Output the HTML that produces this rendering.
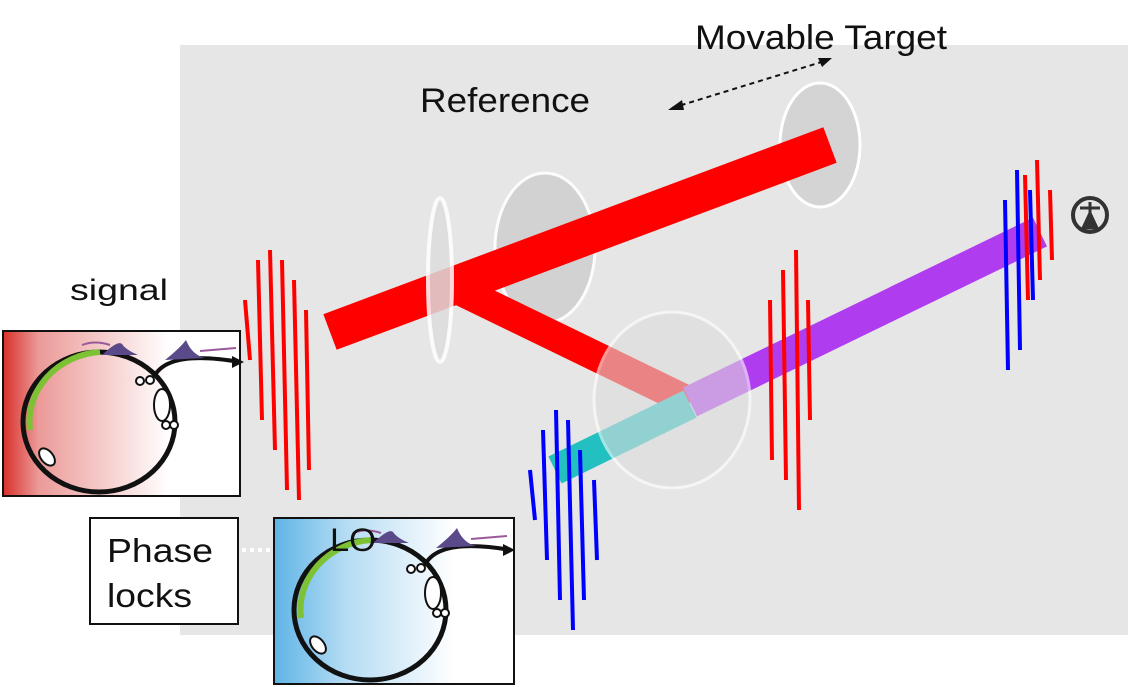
<!DOCTYPE html>
<html><head><style>
body{margin:0;width:1130px;height:687px;background:#fff;overflow:hidden;font-family:"Liberation Sans",Arial,sans-serif}
svg{position:absolute;left:0;top:0}
</style></head><body>
<svg width="1130" height="687" viewBox="0 0 1130 687">
<defs>
<linearGradient id="rg" x1="0" x2="1"><stop offset="0" stop-color="#d9302a"/><stop offset="0.15" stop-color="#eb9a98"/><stop offset="0.7" stop-color="#fff"/></linearGradient>
<linearGradient id="bg" x1="0" x2="1"><stop offset="0" stop-color="#5fb4e6"/><stop offset="0.3" stop-color="#b5dcf3"/><stop offset="0.75" stop-color="#fff"/></linearGradient>
<g id="ring">
<ellipse cx="99" cy="422" rx="76" ry="70" fill="none" stroke="#111" stroke-width="5"/>
<path d="M100 352 A76 70 0 0 0 30 430" fill="none" stroke="#7cc234" stroke-width="6"/>
<path d="M155 375 Q170 350 240 362" fill="none" stroke="#111" stroke-width="4"/>
<polygon points="232,356 244,362 232,368" fill="#111"/>
<ellipse cx="162" cy="405" rx="8" ry="16" fill="#fff" stroke="#111" stroke-width="2"/>
<circle cx="140" cy="381" r="4" fill="#fff" stroke="#111" stroke-width="2"/><circle cx="150" cy="380" r="4" fill="#fff" stroke="#111" stroke-width="2"/>
<circle cx="166" cy="425" r="4" fill="#fff" stroke="#111" stroke-width="2"/><circle cx="174" cy="425" r="4" fill="#fff" stroke="#111" stroke-width="2"/>
<ellipse cx="47" cy="457" rx="6" ry="10" fill="#fff" stroke="#111" stroke-width="2" transform="rotate(-40 47 457)"/>
<path d="M102 355 Q118 340 122 344 Q126 350 138 355 Z" fill="#5a4a8a"/>
<path d="M165 360 Q180 348 186 340 Q192 355 205 358 Z" fill="#5a4a8a"/>
<path d="M110 345 Q95 340 82 345" fill="none" stroke="#9a5a9a" stroke-width="2"/>
<path d="M200 351 L236 348" fill="none" stroke="#9a5a9a" stroke-width="2"/>
</g>
</defs>
<rect x="180" y="45" width="948" height="590" fill="#e6e6e6"/>
<text x="695" y="49" font-size="34" fill="#111" textLength="252" lengthAdjust="spacingAndGlyphs">Movable Target</text>
<text x="420" y="112" font-size="34" fill="#111" textLength="170" lengthAdjust="spacingAndGlyphs">Reference</text>
<text x="70" y="300" font-size="30" fill="#111" textLength="98" lengthAdjust="spacingAndGlyphs">signal</text>
<line x1="672" y1="108" x2="828" y2="60" stroke="#111" stroke-width="2" stroke-dasharray="5,4"/>
<polygon points="668,110 682,100 684,110" fill="#111"/><polygon points="832,58 818,58 822,67" fill="#111"/>
<ellipse cx="820" cy="145" rx="40" ry="62" fill="#d4d4d4" stroke="#fff" stroke-width="3"/>
<ellipse cx="545" cy="248" rx="50" ry="75" fill="#d0d0d0" stroke="#fff" stroke-width="3" opacity="0.9"/>
<line x1="330" y1="332" x2="830" y2="145" stroke="#f00" stroke-width="38"/>
<line x1="455" y1="288" x2="690" y2="402" stroke="#f00" stroke-width="30"/>
<line x1="690" y1="402" x2="1040" y2="232" stroke="#b03cf0" stroke-width="32"/>
<line x1="555" y1="470" x2="690" y2="404" stroke="#22c0c0" stroke-width="30"/>
<ellipse cx="440" cy="280" rx="12" ry="82" fill="#ddd" stroke="#fff" stroke-width="4" opacity="0.85"/>
<ellipse cx="672" cy="400" rx="78" ry="88" fill="#ddd" stroke="#fff" stroke-width="3" opacity="0.6"/>
<g stroke="#f00" stroke-width="4" fill="none">
<path d="M245 300 L250 360 M258 260 L262 420 M270 250 L275 450 M282 260 L287 490 M294 280 L299 500 M306 310 L309 470"/>
<path d="M770 300 L772 460 M783 270 L786 480 M796 250 L799 510 M808 300 L810 420"/>
<path d="M1025 175 L1028 300 M1037 160 L1040 280 M1050 190 L1052 260"/>
</g>
<g stroke="#00f" stroke-width="4" fill="none">
<path d="M530 470 L535 520 M543 430 L547 560 M556 410 L560 600 M568 420 L573 630 M580 450 L584 600 M594 480 L597 560"/>
<path d="M1005 200 L1008 370 M1017 170 L1020 350 M1030 190 L1033 300"/>
</g>
<circle cx="1090" cy="215" r="17" fill="none" stroke="#333" stroke-width="4"/>
<path d="M1080 208 H1100 M1090 202 V228 M1083 228 L1090 213 L1097 228 Z" stroke="#333" stroke-width="3" fill="#333"/>
<rect x="3" y="331" width="237" height="165" fill="url(#rg)" stroke="#111" stroke-width="2"/>
<use href="#ring"/>
<rect x="90" y="518" width="148" height="106" fill="#fff" stroke="#111" stroke-width="2"/>
<text x="107" y="562" font-size="33" fill="#111" textLength="106" lengthAdjust="spacingAndGlyphs">Phase</text>
<text x="107" y="607" font-size="33" fill="#111" textLength="85" lengthAdjust="spacingAndGlyphs">locks</text>
<line x1="242" y1="550" x2="272" y2="550" stroke="#fff" stroke-width="4" stroke-dasharray="4,4"/>
<rect x="274" y="518" width="240" height="166" fill="url(#bg)" stroke="#111" stroke-width="2"/>
<use href="#ring" transform="translate(271 188)"/>
<text x="330" y="551" font-size="32" fill="#111" textLength="46" lengthAdjust="spacingAndGlyphs">LO</text>
</svg>
</body></html>
